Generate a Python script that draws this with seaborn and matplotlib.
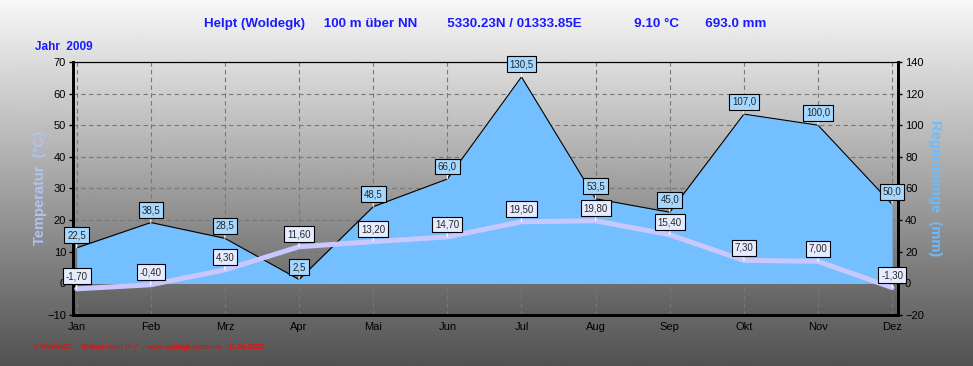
import numpy as np
import pandas as pd
import seaborn as sns
import matplotlib.pyplot as plt

MONTHS = ["Jan", "Feb", "Mrz", "Apr", "Mai", "Jun", "Jul", "Aug", "Sep", "Okt", "Nov", "Dez"]
TEMP = [-1.70, -0.40, 4.30, 11.60, 13.20, 14.70, 19.50, 19.80, 15.40, 7.30, 7.00, -1.30]
RAIN = [22.5, 38.5, 28.5, 2.5, 48.5, 66.0, 130.5, 53.5, 45.0, 107.0, 100.0, 50.0]
TITLE = "Helpt (Woldegk)     100 m über NN        5330.23N / 01333.85E              9.10 °C       693.0 mm"
YEAR = "Jahr  2009"
FOOTER = "© WsWin32  -  Station Helpt M-V  -  www.woldegk-wetter.de   11.04.2022"

df = pd.DataFrame({"month": MONTHS, "x": range(len(MONTHS)), "temp": TEMP, "rain": RAIN})

sns.set_style("white")
plt.rcParams["font.family"] = ["Liberation Sans", "DejaVu Sans"]

fig = plt.figure(figsize=(9.73, 3.66), dpi=100)

# figure background gradient
bg = fig.add_axes([0, 0, 1, 1], zorder=-10)
grad = np.linspace(0.97, 0.32, 256).reshape(-1, 1)
bg.imshow(grad, cmap="gray", vmin=0, vmax=1, aspect="auto", extent=[0, 1, 0, 1])
bg.axis("off")

ax2 = fig.add_axes([0.075, 0.139, 0.848, 0.692])
ax = ax2.twinx()
ax.yaxis.tick_left()
ax.yaxis.set_label_position("left")
ax2.yaxis.tick_right()
ax2.yaxis.set_label_position("right")
ax.set_zorder(ax2.get_zorder() + 1)
ax.patch.set_visible(False)

xlim = (-0.05, 11.08)
# plot area gradient
agrad = np.linspace(0.87, 0.37, 256).reshape(-1, 1)
ax2.imshow(agrad, cmap="gray", vmin=0, vmax=1, aspect="auto",
           extent=[xlim[0], xlim[1], -20, 140], zorder=0)

# rain area
ax2.fill_between(df["x"], 0, df["rain"], color="#74bfff", lw=0, zorder=2)
ax2.plot(df["x"], df["rain"], color="black", lw=0.8, zorder=3)
ax2.set_ylim(-20, 140)
ax2.set_yticks(range(-20, 141, 20))
ax2.set_xlim(*xlim)
ax2.set_axisbelow(True)
ax2.grid(True, color="#777777", linestyle=(0, (4, 3)), lw=0.8)

# temperature line
sns.lineplot(data=df, x="x", y="temp", ax=ax, color="#c8c8ff", lw=3.6, zorder=3)
ax.set_ylim(-10, 70)
ax.set_yticks(range(-10, 71, 10))
ax.set_xlim(*xlim)
ax.set_xticks(df["x"])
ax2.set_xticks(df["x"])
ax.set_xticklabels(MONTHS)
ax.set_xlabel("")
ax.grid(False)

for a in (ax, ax2):
    a.tick_params(labelsize=8, length=3, width=1, colors="black", pad=2)
    for s in a.spines.values():
        s.set_color("black")
        s.set_linewidth(0.8)
    a.spines["left"].set_linewidth(2)
    a.spines["right"].set_linewidth(2)
    a.spines["bottom"].set_linewidth(2)
ax.tick_params(axis="x", pad=6)

ax.set_ylabel("Temperatur  (°C)", color="#b0c4f2", fontsize=10.5, fontweight="bold", labelpad=0)
ax2.set_ylabel("Regenmenge  (mm)", color="#6cbcff", fontsize=10.5, fontweight="bold",
               rotation=270, labelpad=13)


def label(a, x, y, txt, face):
    a.annotate(txt, (x, y), xytext=(0, 9), textcoords="offset points",
               ha="center", va="center", fontsize=7, zorder=6,
               bbox=dict(boxstyle="square,pad=0.3", fc=face, ec="black", lw=0.8),
               arrowprops=dict(arrowstyle="-", color="white", lw=0.8, shrinkA=0, shrinkB=0))


for i, r in df.iterrows():
    label(ax, r["x"], r["rain"] / 2, f"{r['rain']:.1f}".replace(".", ","), "#a6d8ff")
    label(ax, r["x"], r["temp"], f"{r['temp']:.2f}".replace(".", ","), "#e6ecff")

fig.text(0.4985, 0.935, TITLE, color="#1a1aff", fontsize=9.6, fontweight="bold", ha="center", va="center")
fig.text(0.036, 0.872, YEAR, color="#1a1aff", fontsize=8.5, fontweight="bold", ha="left", va="center")
fig.text(0.034, 0.052, FOOTER, color="#ff0000", fontsize=5.1, ha="left", va="center")

fig.savefig("out.png", dpi=100)
